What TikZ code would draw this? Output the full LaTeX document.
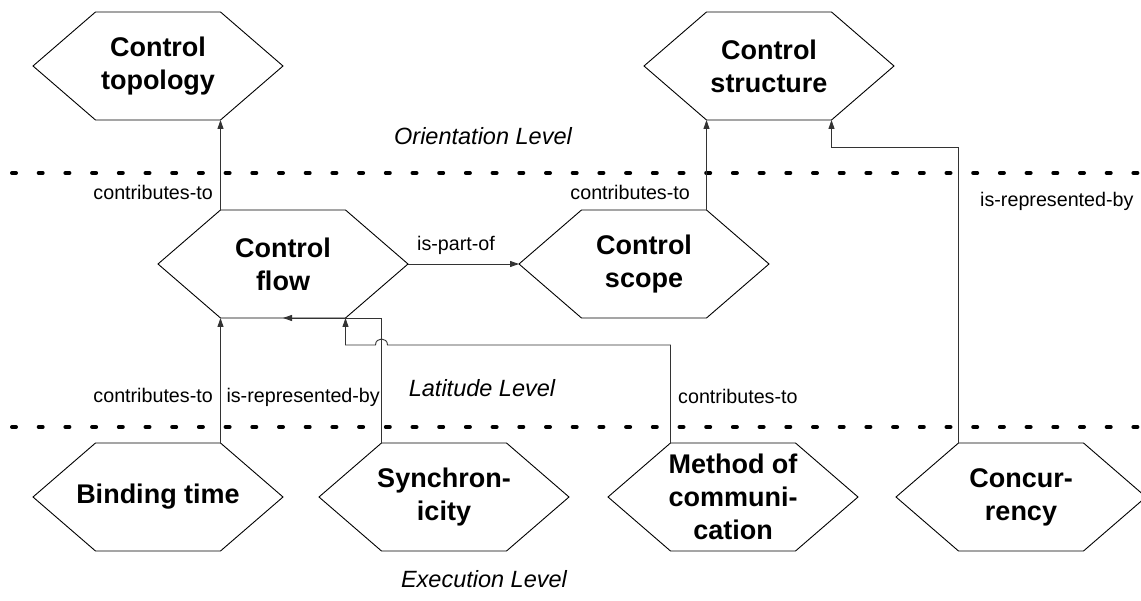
\documentclass[tikz,border=0pt]{standalone}
\usepackage{fontspec}
\setmainfont{Liberation Sans}
\usetikzlibrary{arrows.meta,calc}

\tikzset{
  hexbox/.style={rectangle, inner sep=0pt, outer sep=0pt,
    minimum width=250pt, minimum height=108pt, align=center,
    font=\fontsize{27}{33}\selectfont\bfseries},
  hexline/.style={draw=black, line width=0.9pt, line join=miter},
  conn/.style={draw=black!80, line width=0.9pt, -{Triangle[length=9pt,width=6pt]}},
  rel/.style={inner sep=0pt, font=\fontsize{19.7}{23}\selectfont},
  level/.style={inner sep=0pt, font=\fontsize{23.5}{28}\selectfont\itshape},
  levelline/.style={line width=4pt, line cap=round, dash pattern=on 4pt off 22.7pt},
}

% hexagonal concept box: node plus named corner coordinates
\newcommand\drawhexagon[3]{%
  \node[hexbox] (#1) at (#2) {#3};
  \coordinate (#1-nw) at ($(#1.north west)+(62.5pt,0pt)$);
  \coordinate (#1-ne) at ($(#1.north east)+(-62.5pt,0pt)$);
  \coordinate (#1-sw) at ($(#1.south west)+(62.5pt,0pt)$);
  \coordinate (#1-se) at ($(#1.south east)+(-62.5pt,0pt)$);
  \draw[hexline] (#1.west) -- (#1-nw) -- (#1-ne) -- (#1.east) -- (#1-se) -- (#1-sw) -- cycle;
}

\begin{document}
\begin{tikzpicture}[x=1pt,y=-1pt]
\fill[white] (0,0) rectangle (1141,601);
\useasboundingbox (0,0) rectangle (1141,601);

% level separators
\draw[levelline] (12,173) -- (1141,173);
\draw[levelline] (12,427) -- (1141,427);

% level names
\node[level, anchor=base] (lvlO) at (483,145) {Orientation Level};
\node[level, anchor=base] (lvlL) at (482,397) {Latitude Level};
\node[level, anchor=base] (lvlE) at (484,587) {Execution Level};

% concepts
\drawhexagon{topo}{158,66}{Control\\topology}
\drawhexagon{struct}{769,66}{Control\\structure}
\drawhexagon{flow}{283,264}{Control\\flow}
\drawhexagon{scope}{644,264}{Control\\scope}
\drawhexagon{bind}{158,497}{Binding time}
\drawhexagon{sync}{444,497}{Synchron-\\icity}
\drawhexagon{meth}{733,497}{Method of\\communi-\\cation}
\drawhexagon{conc}{1021,497}{Concur-\\rency}

% relations
\draw[conn] (flow-nw) -- (topo-se);
\node[rel, anchor=base east] (r1) at (213,200) {contributes-to};

\draw[conn] (scope-ne) -- (struct-sw);
\node[rel, anchor=base east] (r2) at (690,200) {contributes-to};

\coordinate (bendC) at ($(struct-se)+(0,27)$);
\draw[conn] (conc-nw) |- (bendC) -- (struct-se);
\node[rel, anchor=base west] (r3) at (980,207) {is-represented-by};

\draw[conn] (flow.east) -- (scope.west);
\node[rel, anchor=base] (r4) at (456,251) {is-part-of};

\draw[conn] (bind-ne) -- (flow-sw);
\node[rel, anchor=base east] (r5) at (213,403) {contributes-to};

\draw[conn] (sync-nw) |- (flow.south);
\node[rel, anchor=base east] (r6) at (380,403) {is-represented-by};

\coordinate (mcorner) at ($(meth-nw)+(0,-98)$);
\coordinate (hopR) at ($(sync-nw |- mcorner)+(6,0)$);
\coordinate (hopL) at ($(sync-nw |- mcorner)+(-6,0)$);
\coordinate (fcorner) at (flow-se |- mcorner);
\draw[conn] (meth-nw) -- (mcorner) -- (hopR)
  .. controls ($(hopR)+(0,-8)$) and ($(hopL)+(0,-8)$) .. (hopL)
  -- (fcorner) -- (flow-se);
\node[rel, anchor=base west] (r7) at (678,404) {contributes-to};
\end{tikzpicture}
\end{document}
